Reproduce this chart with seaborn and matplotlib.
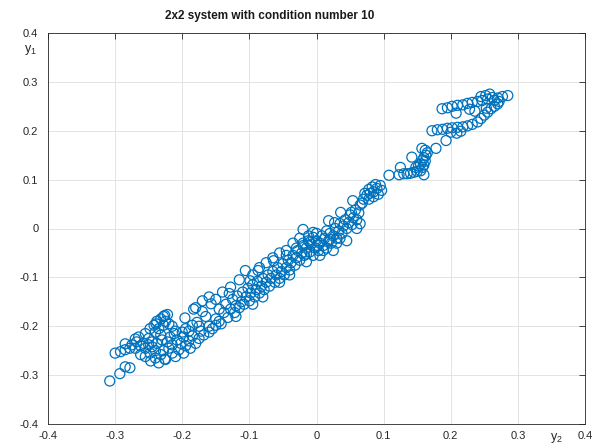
import matplotlib
matplotlib.use("Agg")
import matplotlib.pyplot as plt
import seaborn as sns
import pandas as pd

# points, grouped by region of the cloud
lower_x = [-0.308, -0.293, -0.278, -0.285, -0.300, -0.292, -0.285, -0.278, -0.270, -0.262,
           -0.255, -0.250, -0.245, -0.285, -0.270, -0.265, -0.255, -0.248, -0.242, -0.238,
           -0.232, -0.228, -0.222, -0.240, -0.235, -0.228, -0.225, -0.232, -0.220, -0.215,
           -0.210, -0.262, -0.255, -0.248, -0.240, -0.235, -0.232, -0.228, -0.225, -0.220,
           -0.215, -0.210, -0.245, -0.238, -0.230, -0.222, -0.215, -0.208, -0.202, -0.198,
           -0.195, -0.190, -0.185, -0.180, -0.175, -0.172, -0.168, -0.160, -0.155, -0.150,
           -0.205, -0.198, -0.188, -0.240, -0.250, -0.258, -0.268, -0.275, -0.218, -0.212,
           -0.200, -0.195, -0.190, -0.185, -0.178, -0.175, -0.247, -0.226, -0.226, -0.239,
           -0.196, -0.180, -0.157, -0.170, -0.165]
lower_y = [-0.312, -0.297, -0.285, -0.283, -0.255, -0.252, -0.248, -0.245, -0.245, -0.240,
           -0.245, -0.238, -0.232, -0.236, -0.226, -0.222, -0.215, -0.205, -0.198, -0.190,
           -0.185, -0.180, -0.176, -0.212, -0.205, -0.198, -0.190, -0.218, -0.195, -0.200,
           -0.210, -0.258, -0.262, -0.255, -0.265, -0.275, -0.258, -0.250, -0.268, -0.245,
           -0.255, -0.262, -0.242, -0.235, -0.228, -0.232, -0.238, -0.228, -0.235, -0.222,
           -0.240, -0.230, -0.220, -0.235, -0.225, -0.210, -0.218, -0.212, -0.205, -0.198,
           -0.248, -0.255, -0.245, -0.250, -0.225, -0.235, -0.232, -0.238, -0.222, -0.215,
           -0.212, -0.205, -0.210, -0.198, -0.192, -0.200, -0.271, -0.267, -0.178, -0.195,
           -0.183, -0.162, -0.154, -0.170, -0.180]

middle_x = [-0.150, -0.145, -0.142, -0.138, -0.135, -0.132, -0.128, -0.125, -0.122, -0.120,
            -0.118, -0.115, -0.112, -0.110, -0.108, -0.105, -0.102, -0.100, -0.098, -0.095,
            -0.092, -0.090, -0.088, -0.085, -0.082, -0.080, -0.078, -0.075, -0.072, -0.070,
            -0.068, -0.065, -0.062, -0.060, -0.058, -0.055, -0.052, -0.050, -0.048, -0.045,
            -0.042, -0.040, -0.038, -0.035, -0.032, -0.030, -0.028, -0.025, -0.022, -0.020,
            -0.018, -0.015, -0.012, -0.010, -0.008, -0.005, -0.002, 0.000, 0.003, 0.005,
            0.008, 0.010, 0.012, 0.015, 0.018, 0.020, 0.022, 0.025, 0.028, 0.030,
            0.033, 0.035, 0.038, 0.040, 0.043, 0.045, 0.048, 0.050, 0.053, 0.055,
            0.058, 0.060, 0.063, 0.065, 0.068, 0.070, -0.130, -0.087, -0.064, -0.045,
            -0.099, -0.020, 0.018, 0.036, 0.052, 0.054, 0.027, -0.005, 0.010, -0.015,
            -0.183, -0.170, -0.160, -0.150, -0.140, -0.128, -0.115, -0.106, -0.095, -0.085,
            -0.075, -0.065, -0.055, -0.045, -0.035, -0.025, -0.020, -0.012, 0.000, 0.005,
            0.015, 0.025, 0.035, 0.045, 0.060, 0.065, -0.160, -0.145, -0.120, -0.095,
            -0.080, -0.055, -0.040, -0.015, -0.005, -0.030, -0.010, 0.002, 0.020, 0.030]
middle_y = [-0.185, -0.165, -0.195, -0.172, -0.155, -0.182, -0.165, -0.145, -0.172, -0.158,
            -0.138, -0.162, -0.150, -0.130, -0.155, -0.140, -0.122, -0.148, -0.132, -0.115,
            -0.140, -0.125, -0.108, -0.132, -0.118, -0.102, -0.125, -0.110, -0.095, -0.118,
            -0.102, -0.088, -0.110, -0.095, -0.080, -0.102, -0.088, -0.072, -0.095, -0.080,
            -0.065, -0.085, -0.070, -0.055, -0.075, -0.060, -0.045, -0.065, -0.050, -0.035,
            -0.055, -0.040, -0.025, -0.048, -0.032, -0.018, -0.040, -0.025, -0.045, -0.030,
            -0.015, -0.035, -0.020, -0.005, -0.025, -0.010, -0.030, -0.015, 0.000, -0.020,
            -0.005, 0.010, -0.010, 0.005, 0.018, 0.000, 0.012, 0.028, 0.008, 0.022,
            0.038, 0.018, 0.032, 0.048, 0.052, 0.060, -0.133, -0.086, -0.066, -0.045,
            -0.107, -0.002, 0.016, 0.033, 0.033, 0.057, 0.012, -0.008, -0.045, -0.052,
            -0.165, -0.148, -0.140, -0.145, -0.130, -0.120, -0.105, -0.086, -0.095, -0.080,
            -0.070, -0.060, -0.050, -0.055, -0.030, -0.020, -0.030, -0.015, -0.010, -0.055,
            -0.040, -0.045, -0.020, -0.025, 0.000, 0.010, -0.200, -0.190, -0.180, -0.155,
            -0.140, -0.110, -0.095, -0.068, -0.055, -0.040, -0.028, -0.035, -0.022, -0.030]

upper_x = [0.075, 0.078, 0.080, 0.083, 0.085, 0.088, 0.090, 0.092, 0.095, 0.097,
           0.085, 0.078, 0.072, 0.108, 0.125, 0.123, 0.130, 0.135, 0.140, 0.145,
           0.150, 0.155, 0.160, 0.158, 0.160, 0.162, 0.160, 0.163, 0.165, 0.162,
           0.158, 0.155, 0.152, 0.148, 0.142, 0.157, 0.178, 0.193, 0.209, 0.172,
           0.180, 0.188, 0.195, 0.202, 0.210, 0.218, 0.225, 0.232, 0.240, 0.245,
           0.250, 0.255, 0.260, 0.265, 0.270, 0.200, 0.215, 0.187, 0.195, 0.202,
           0.210, 0.218, 0.225, 0.232, 0.240, 0.247, 0.255, 0.262, 0.270, 0.277,
           0.285, 0.252, 0.258, 0.245, 0.265, 0.272, 0.208, 0.253, 0.228, 0.236]
upper_y = [0.068, 0.080, 0.072, 0.085, 0.075, 0.090, 0.082, 0.070, 0.088, 0.078,
           0.065, 0.060, 0.072, 0.109, 0.125, 0.110, 0.112, 0.112, 0.113, 0.115,
           0.117, 0.118, 0.110, 0.125, 0.130, 0.138, 0.145, 0.150, 0.155, 0.160,
           0.140, 0.132, 0.128, 0.125, 0.146, 0.164, 0.164, 0.180, 0.195, 0.200,
           0.202, 0.203, 0.205, 0.206, 0.207, 0.208, 0.210, 0.213, 0.218, 0.225,
           0.232, 0.238, 0.245, 0.250, 0.255, 0.197, 0.199, 0.245, 0.247, 0.250,
           0.252, 0.253, 0.256, 0.258, 0.260, 0.262, 0.265, 0.268, 0.267, 0.270,
           0.272, 0.272, 0.275, 0.270, 0.262, 0.260, 0.236, 0.246, 0.244, 0.240]

x_ticks = [-0.4, -0.3, -0.2, -0.1, 0, 0.1, 0.2, 0.3, 0.4]
y_ticks = [-0.4, -0.3, -0.2, -0.1, 0, 0.1, 0.2, 0.3, 0.4]

df = pd.DataFrame({'y2': lower_x + middle_x + upper_x,
                   'y1': lower_y + middle_y + upper_y})

sns.set_style('white')
plt.rcParams['font.family'] = ['Liberation Sans', 'DejaVu Sans']

fig = plt.figure(figsize=(5.99, 4.45), dpi=100)
ax = fig.add_axes([48 / 599, 1 - 424 / 445, (585 - 48) / 599, (424 - 33) / 445])
sns.scatterplot(data=df, x='y2', y='y1', ax=ax, marker='o', s=52,
                facecolor='none', edgecolor='#0072BD', linewidth=0.9)

ax.set_xlim(-0.4, 0.4)
ax.set_ylim(-0.4, 0.4)
ax.set_xticks(x_ticks)
ax.set_yticks(y_ticks)
ax.set_xticklabels([f'{t:g}' for t in x_ticks], fontsize=8)
ax.set_yticklabels([f'{t:g}' for t in y_ticks], fontsize=8)
ax.set_xlabel('')
ax.set_ylabel('')
ax.grid(True, color='#e3e3e3', linewidth=0.7)
ax.set_axisbelow(True)
for s in ax.spines.values():
    s.set_color('#262626')
    s.set_linewidth(0.6)
ax.tick_params(direction='in', length=4, width=0.6, color='#262626',
               top=True, right=True, labelcolor='#262626')
ax.tick_params(axis='y', pad=7)
ax.tick_params(axis='x', pad=5)

fig.text(270 / 599, 1 - 16 / 445, '2x2 system with condition number 10',
         ha='center', va='center', fontsize=8.5, fontweight='bold', color='#1a1a1a')
fig.text(30 / 599, 1 - 50 / 445, r'$\mathregular{y_1}$', ha='center', va='center',
         fontsize=9, color='#262626')
fig.text(556 / 599, 1 - 438 / 445, r'$\mathregular{y_2}$', ha='center', va='center',
         fontsize=9, color='#262626')

fig.savefig('out.png', dpi=100)
